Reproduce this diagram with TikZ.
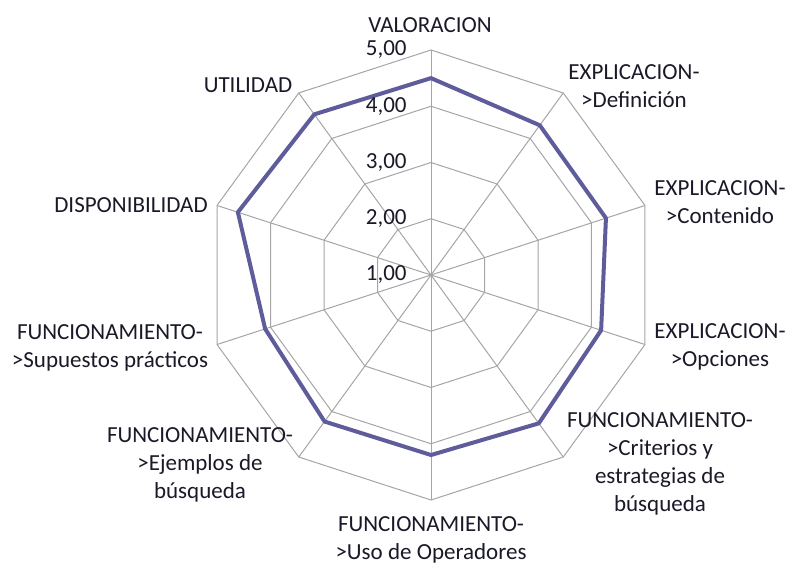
\documentclass[tikz,border=0pt]{standalone}
\usepackage{fontspec}
\setmainfont{Carlito}
\usetikzlibrary{calc}
\definecolor{serie}{RGB}{94,92,154}
\definecolor{rejilla}{RGB}{165,165,165}
\definecolor{texto}{RGB}{25,25,40}

\begin{document}
\begin{tikzpicture}[x=0.5pt,y=0.5pt,
    every node/.style={inner sep=0pt, text=texto, font=\fontsize{11.5}{14}\selectfont},
    eje/.style={rejilla, line width=0.5pt},
    etiqueta/.style={align=center},
    escala/.style={anchor=east}]
        \useasboundingbox (0,0) rectangle (787,563);
        \coordinate (c) at (431,288);
        \foreach \i in {0,...,9}
            \coordinate (e\i) at ($(c)+(90-36*\i:225)$);

        % rejilla
        \foreach \k in {1,...,4}
            \draw[eje] ($(c)!\k/4!(e0)$) \foreach \i in {1,...,9} {-- ($(c)!\k/4!(e\i)$)} -- cycle;
        \foreach \i in {0,...,9}
            \draw[eje] (c) -- (e\i);

        % serie
        \foreach \i/\v in {0/4.50,1/4.29,2/4.27,3/4.18,4/4.26,5/4.20,6/4.22,7/4.10,8/4.61,9/4.53}
            \coordinate (d\i) at ($(c)+(90-36*\i:{(\v-1)*56.25})$);
        \draw[serie, line width=2pt, line join=round] (d0)--(d1)--(d2)--(d3)--(d4)--(d5)--(d6)--(d7)--(d8)--(d9)-- cycle;

        % escala
        \foreach \k in {1,...,5}
            \node[escala] (t\k) at (407,{288+(\k-1)*56.25}) {\k,00};

        \node[etiqueta] (valoracion) at (430,538) {VALORACION};
        \node[etiqueta] (definicion) at (634,477) {EXPLICACION-\\>Definición};
        \node[etiqueta] (contenido) at (720,361) {EXPLICACION-\\>Contenido};
        \node[etiqueta] (opciones) at (720,216) {EXPLICACION-\\>Opciones};
        \node[etiqueta] (criterios) at (660,99) {FUNCIONAMIENTO-\\>Criterios y\\estrategias de\\búsqueda};
        \node[etiqueta] (uso) at (431,23) {FUNCIONAMIENTO-\\>Uso de Operadores};
        \node[etiqueta] (ejemplos) at (200,98) {FUNCIONAMIENTO-\\>Ejemplos de\\búsqueda};
        \node[etiqueta] (supuestos) at (110,215) {FUNCIONAMIENTO-\\>Supuestos prácticos};
        \node[etiqueta] (disponibilidad) at (131,358) {DISPONIBILIDAD};
        \node[etiqueta] (utilidad) at (248,478) {UTILIDAD};
    \end{tikzpicture}
\end{document}
